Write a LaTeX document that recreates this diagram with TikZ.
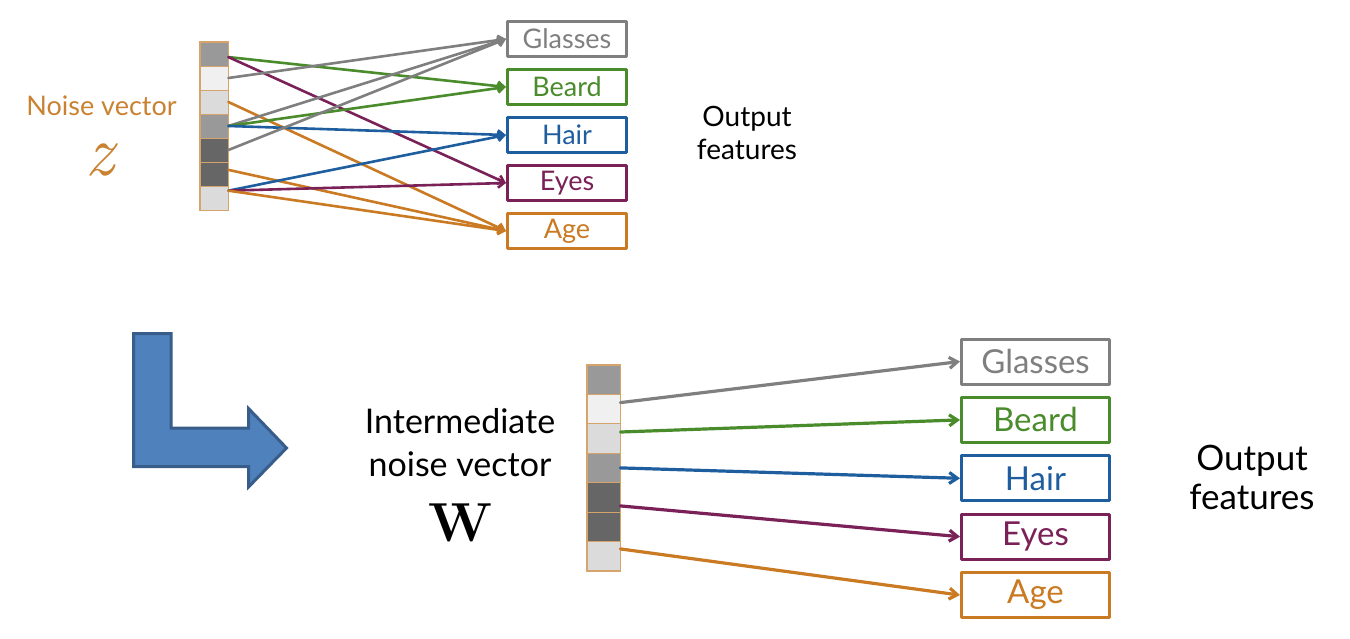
\documentclass[tikz,border=0pt]{standalone}
\usepackage{fontspec}
\setmainfont{Lato}
\newfontfamily\lmfont{Latin Modern Roman}
\usetikzlibrary{arrows.meta}
\definecolor{cgray}{HTML}{7F7F7F}
\definecolor{cgreen}{HTML}{4A8B2C}
\definecolor{cblue}{HTML}{1F5E9E}
\definecolor{cpurple}{HTML}{7A2157}
\definecolor{corange}{HTML}{C97A22}
\definecolor{cnoise}{HTML}{C98232}
\definecolor{cedge}{HTML}{D6A46A}
\definecolor{cfill}{HTML}{4F81BD}
\definecolor{cline}{HTML}{385D8A}
\begin{document}
\begin{tikzpicture}[x=1pt, y=-1pt, line join=round, line cap=round,
  cell/.style={draw=cedge, line width=0.8pt, inner sep=0pt},
  topbox/.style={draw, line width=2.6pt, minimum width=119.5pt,
    minimum height=35.5pt, inner sep=0pt,
    font=\fontsize{27pt}{30pt}\selectfont},
  botbox/.style={draw, line width=3pt, minimum width=148pt,
    minimum height=45pt, inner sep=0pt,
    font=\fontsize{33pt}{36pt}\selectfont},
  toplink/.style={-{Straight Barb[length=6pt,width=9pt]}, line width=2.6pt},
  botlink/.style={-{Straight Barb[length=8pt,width=11pt]}, line width=3.2pt}]
\useasboundingbox (0,0) rectangle (1350,639);
% top: noise vector z
\foreach \i/\g in {1/40,2/6,3/14,4/40,5/60,6/60,7/14}
  \node[cell, fill=black!\g, minimum width=28pt, minimum height=24pt]
    (a\i) at (214,{30+24*\i}) {};
\draw[cedge, line width=1.2pt] (a1.north west) rectangle (a7.south east);
\foreach \n/\t/\c [count=\i] in {gl/Glasses/cgray, be/Beard/cgreen,
    ha/Hair/cblue, ey/Eyes/cpurple, ag/Age/corange}
  \node[topbox, draw=\c, text=\c] (t\n) at (567,{-9+48*\i}) {\t};
\foreach \s/\t/\c in {a1.-12/tbe/cgreen, a1.-12/tey/cpurple,
    a2.east/tgl/cgray, a3.east/tag/corange, a4.east/tgl/cgray,
    a4.east/tbe/cgreen, a4.east/tha/cblue, a5.east/tgl/cgray,
    a6.16/tag/corange, a7.27/tha/cblue, a7.27/tey/cpurple,
    a7.27/tag/corange}
  \draw[toplink, \c] (\s) -- (\t.west);
\node[text=cnoise, inner sep=0pt, font=\fontsize{27pt}{32pt}\selectfont]
  (zlabel) at (101.5,106) {Noise vector};
\node[text=cnoise, inner sep=0pt,
  font=\fontsize{72pt}{72pt}\selectfont\lmfont\itshape]
  (zsym) at (100,160) {z};
\node[align=center, font=\fontsize{28pt}{33pt}\selectfont]
  (topout) at (747,133) {Output\\features};
% the bent arrow
\draw[fill=cfill, draw=cline, line width=3pt, line join=miter]
  (133.5,333.5) -- (171,333.5) -- (171,428) -- (248.5,428)
  -- (248.5,408.5) -- (286.5,448) -- (248.5,487) -- (248.5,466.5)
  -- (133.5,466.5) -- cycle;
% bottom: intermediate vector w
\foreach \i/\g in {1/40,2/6,3/14,4/40,5/60,6/60,7/14}
  \node[cell, fill=black!\g, minimum width=33pt, minimum height=29.4pt]
    (b\i) at (603.5,{350.3+29.4*\i}) {};
\draw[cedge, line width=1.2pt] (b1.north west) rectangle (b7.south east);
\foreach \n/\t/\c [count=\i] in {gl/Glasses/cgray, be/Beard/cgreen,
    ha/Hair/cblue, ey/Eyes/cpurple, ag/Age/corange}
  \node[botbox, draw=\c, text=\c] (w\n) at (1035.5,{303.1+58.4*\i}) {\t};
\foreach \s/\t/\c in {b2.21/wgl/cgray, b3.21/wbe/cgreen,
    b4.east/wha/cblue, b5.-27/wey/cpurple, b7.23/wag/corange}
  \draw[botlink, \c] (\s) -- (\t.west);
\node[align=center, font=\fontsize{34pt}{43pt}\selectfont]
  (wlabel) at (460,443) {Intermediate\\noise vector};
\node[font=\fontsize{55pt}{55pt}\selectfont\lmfont\bfseries] (wsym) at (460,523) {W};
\node[align=center, font=\fontsize{35pt}{39pt}\selectfont]
  (botout) at (1252,477) {Output\\features};
\end{tikzpicture}
\end{document}
